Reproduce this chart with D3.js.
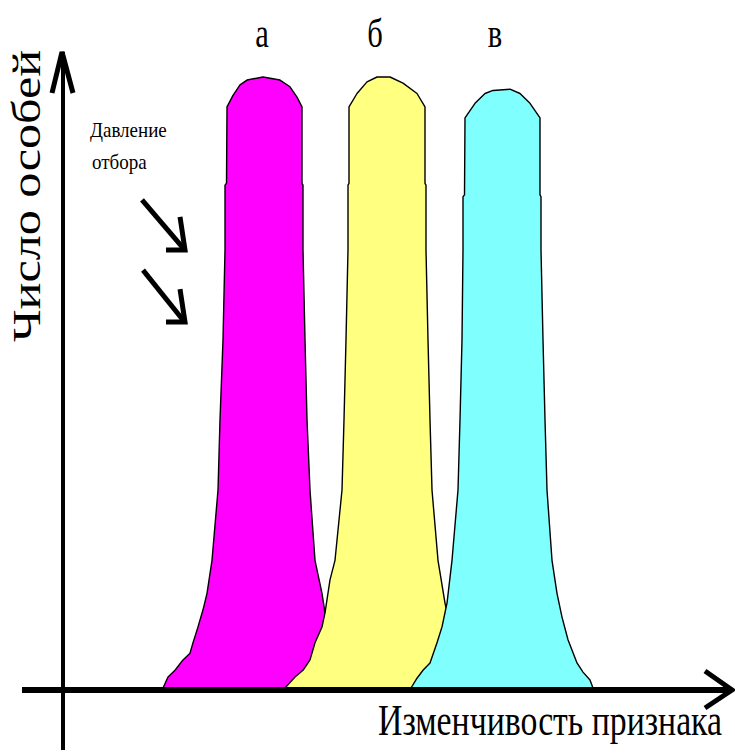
<!DOCTYPE html>
<html>
<head>
<meta charset="utf-8">
<script src="https://cdn.jsdelivr.net/npm/d3@7"></script>
<style>
  html, body { margin: 0; padding: 0; background: #fff; }
  svg { display: block; }
  text { font-family: 'Liberation Serif', 'DejaVu Serif', serif; }
</style>
</head>
<body>
<script>
// Данные: контуры трёх распределений [изменчивость, число особей]
const groups = ["а", "б", "в"];
const groupX = [19.8, 31.1, 43.1];

const curveA = [
  [9.9, 0], [10.4, 1.8], [11.1, 2.9], [11.9, 4.6], [12.6, 5.7], [12.9, 7.4],
  [13.4, 10.0], [13.9, 12.8], [14.3, 15.5], [14.8, 20.9], [15.4, 32.4],
  [15.6, 43.9], [15.9, 57.0], [16.1, 71.7], [16.1, 82.3], [16.25, 82.6], [16.3, 95.1],
  [16.9, 97.0], [17.6, 98.7], [18.3, 99.5], [19.9, 100], [21.6, 99.5],
  [22.6, 98.4], [23.3, 96.7], [23.8, 95.1], [23.8, 82.6], [23.9, 82.3],
  [23.9, 71.7], [24.1, 57.0], [24.3, 43.9], [24.6, 32.4], [25.1, 20.9],
  [25.8, 15.5], [26.1, 12.3], [26.6, 7.9], [27.2, 4.6], [27.9, 2.6],
  [28.6, 1.3], [29.1, 0]
];

const curveB = [
  [22.1, 0], [23.1, 1.8], [23.9, 2.9], [24.6, 4.6], [25.1, 7.4], [25.8, 10.0],
  [26.1, 12.3], [26.6, 17.7], [27.1, 20.9], [27.8, 32.4], [28.0, 43.9],
  [28.2, 57.0], [28.4, 71.7], [28.4, 82.3], [28.5, 82.6], [28.5, 95.1],
  [29.3, 97.3], [30.3, 99.2], [31.3, 100], [32.6, 100], [33.9, 99.0],
  [35.3, 97.3], [36.1, 95.1], [36.1, 82.6], [36.2, 82.3], [36.2, 71.7],
  [36.4, 57.0], [36.6, 43.9], [36.8, 32.4], [37.4, 20.9], [38.1, 13.9],
  [38.6, 10.0], [39.3, 5.7], [40.1, 2.9], [41.1, 0]
];

const curveV = [
  [34.7, 0], [35.3, 1.6], [35.9, 2.9], [36.6, 4.1], [37.3, 7.4], [37.8, 10.0],
  [38.3, 13.9], [38.8, 20.9], [39.4, 32.4], [39.6, 43.9], [39.8, 57.0],
  [39.9, 71.7], [39.9, 80.4], [40.05, 80.7], [40.1, 93.3], [41.1, 95.7],
  [42.1, 97.3], [42.9, 97.8], [44.6, 98.0], [45.6, 97.3], [46.6, 95.7],
  [47.6, 93.3], [47.6, 80.7], [47.7, 80.4], [47.7, 71.7], [47.9, 57.0],
  [48.1, 43.9], [48.3, 32.4], [48.8, 20.9], [49.3, 15.5], [49.8, 11.6],
  [50.4, 7.9], [51.3, 4.1], [51.9, 2.6], [52.6, 1.3], [52.9, 0]
];

// Стрелки «давление отбора»: [x1, y1, x2, y2]
const pressureArrows = [
  [7.8, 79.9, 12.1, 71.7],
  [7.9, 68.4, 12.1, 59.9]
];

const width = 735;
const height = 754;
const colors = ["#ff00ff", "#ffff80", "#80ffff"];

const x = d3.scaleLinear().domain([0, 66]).range([64, 724]);
const y = d3.scaleLinear().domain([0, 100]).range([688, 77]);

const svg = d3.select("body")
  .append("svg")
  .attr("width", width)
  .attr("height", height);

// Кривые
const line = d3.line()
  .x(d => x(d[0]))
  .y(d => y(d[1]))
  .curve(d3.curveLinear);

svg.selectAll("path.curve")
  .data([curveA, curveB, curveV])
  .enter()
  .append("path")
  .attr("class", "curve")
  .attr("d", d => line(d) + "Z")
  .attr("fill", (d, i) => colors[i])
  .attr("stroke", "#000")
  .attr("stroke-width", 1.4)
  .attr("stroke-linejoin", "round");

// Подписи а, б, в
svg.selectAll("text.group")
  .data(groups)
  .enter()
  .append("text")
  .attr("class", "group")
  .attr("transform", (d, i) => `translate(${x(groupX[i])},47) scale(0.85,1.12)`)
  .attr("text-anchor", "middle")
  .style("font-size", "36px")
  .text(d => d);

// Оси
const axisG = svg.append("g")
  .attr("stroke", "#000")
  .attr("fill", "none");

axisG.append("line")
  .attr("x1", 63).attr("y1", 52)
  .attr("x2", 63).attr("y2", 750)
  .attr("stroke-width", 4);

axisG.append("line")
  .attr("x1", 22).attr("y1", y(0) + 2)
  .attr("x2", 731).attr("y2", y(0) + 2)
  .attr("stroke-width", 6);

// стрелка оси Y
axisG.append("path")
  .attr("d", "M52,93 L62,52 L73,93")
  .attr("stroke-width", 5)
  .attr("stroke-linejoin", "miter");

// стрелка оси X
axisG.append("path")
  .attr("d", `M705,${y(0) - 17} L732,${y(0) + 2} L705,${y(0) + 20}`)
  .attr("stroke-width", 5)
  .attr("stroke-linejoin", "miter");

// Стрелки давления отбора
pressureArrows.forEach(a => {
  const tx = x(a[2]), ty = y(a[3]);
  axisG.append("line")
    .attr("x1", x(a[0])).attr("y1", y(a[1]))
    .attr("x2", tx - 2).attr("y2", ty - 2)
    .attr("stroke-width", 5);
  axisG.append("path")
    .attr("d", `M${tx - 5},${ty - 33} L${tx},${ty} L${tx - 19},${ty}`)
    .attr("stroke-width", 5)
    .attr("stroke-linejoin", "miter");
});

// Подписи осей
svg.append("text")
  .attr("transform", "translate(40,196) rotate(-90)")
  .attr("text-anchor", "middle")
  .attr("textLength", 292)
  .attr("lengthAdjust", "spacingAndGlyphs")
  .style("font-size", "40px")
  .text("Число особей");

svg.append("text")
  .attr("transform", "translate(378,735) scale(1,1.32)")
  .attr("textLength", 344)
  .attr("lengthAdjust", "spacingAndGlyphs")
  .style("font-size", "34px")
  .text("Изменчивость признака");

svg.append("text")
  .attr("transform", "translate(90,137) scale(0.95,1.1)")
  .style("font-size", "20px")
  .text("Давление");

svg.append("text")
  .attr("transform", "translate(92,169) scale(0.95,1.1)")
  .style("font-size", "20px")
  .text("отбора");
</script>
</body>
</html>
